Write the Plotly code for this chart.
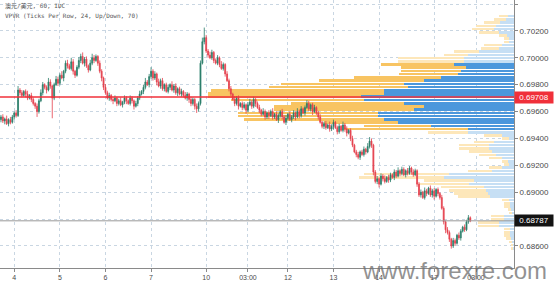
import plotly.graph_objects as go

# ---------------- data ----------------
X_TICK_POS = [7, 31, 55, 79, 108, 130, 151, 175, 199, 228, 250]
X_TICK_TEXT = ["4", "5", "6", "7", "10", "03:00", "12", "13", "14", "17", "03:00"]

Y_TICKS = [0.686, 0.688, 0.690, 0.692, 0.694, 0.696, 0.698, 0.700, 0.702, 0.704]

PRICE_SCALE = 100000.0
FIRST_OPEN = 69540
CLOSE = [
    69560, 69530, 69545, 69510, 69540, 69520, 69560, 69590, 69570, 69760,
    69740, 69720, 69750, 69730, 69700, 69720, 69690, 69660, 69640, 69600,
    69680, 69740, 69800, 69780, 69760, 69820, 69790, 69700, 69800, 69840,
    69810, 69870, 69850, 69900, 69960, 69940, 69920, 69970, 69900, 69870,
    69930, 69980, 70010, 69960, 69990, 69940, 69910, 69960, 70000, 69980,
    70010, 69960, 69900, 69850, 69780, 69740, 69700, 69720, 69690, 69680,
    69700, 69660, 69680, 69650, 69670, 69700, 69680, 69660, 69700, 69680,
    69640, 69660, 69700, 69730, 69750, 69780, 69820, 69800, 69860, 69900,
    69850, 69880, 69820, 69790, 69830, 69770, 69800, 69750, 69780, 69800,
    69760, 69790, 69740, 69770, 69730, 69750, 69720, 69700, 69730, 69690,
    69660, 69690, 69640, 69620, 69660, 69960, 70120, 70150, 70050, 70020,
    70000, 70040, 69980, 69960, 70000, 69950, 69920, 69950, 69880, 69830,
    69770, 69730, 69690, 69660, 69700, 69640, 69660, 69630, 69650, 69610,
    69650, 69670, 69640, 69690, 69660, 69630, 69610, 69580, 69600, 69560,
    69590, 69570, 69600, 69560, 69580, 69540, 69570, 69600, 69560, 69520,
    69550, 69580, 69540, 69560, 69590, 69560, 69600, 69570, 69620, 69590,
    69630, 69660, 69620, 69650, 69600, 69630, 69590, 69560, 69520, 69490,
    69510, 69480, 69500, 69470, 69490, 69520, 69480, 69450, 69490, 69460,
    69500, 69470, 69440, 69460, 69400, 69350, 69300, 69280, 69260, 69300,
    69280, 69320, 69300, 69340, 69380, 69350, 69150, 69080, 69100, 69060,
    69120, 69100, 69080, 69110, 69090, 69130, 69110, 69150, 69120, 69160,
    69140, 69170, 69130, 69160, 69140, 69180, 69150, 69130, 69160, 69060,
    68980, 69000, 68960, 69010, 68990, 69030, 68980, 69010, 68970, 69020,
    68990, 68960, 68880, 68780, 68720, 68700, 68650, 68600, 68640, 68620,
    68680, 68660, 68710, 68740, 68720, 68780, 68810, 68787,
]
UP_WICK = [
    15, 20, 10, 25, 10, 20, 15, 10, 20, 30,
    15, 20, 10, 15, 25, 10, 20, 15, 10, 20,
    15, 25, 20, 10, 15, 30, 20, 10, 15, 25,
    20, 15, 30, 10, 20, 25, 15, 30, 20, 10,
    15, 25, 20, 30, 15, 20, 10, 25, 30, 20,
    15, 10, 20, 15, 10, 25, 15, 20, 10, 15,
    20, 10, 15, 25, 10, 20, 15, 10, 20, 15,
    10, 20, 15, 25, 10, 20, 30, 15, 20, 30,
    15, 20, 10, 25, 15, 20, 10, 15, 20, 10,
    25, 15, 20, 10, 15, 20, 10, 25, 15, 10,
    20, 15, 10, 20, 15, 20, 30, 75, 20, 15,
    25, 20, 10, 15, 20, 10, 25, 15, 10, 20,
    15, 20, 10, 25, 15, 20, 10, 15, 20, 10,
    20, 25, 15, 20, 10, 15, 20, 10, 25, 15,
    10, 20, 15, 25, 10, 20, 15, 10, 20, 15,
    25, 10, 20, 15, 20, 10, 25, 15, 20, 10,
    15, 25, 20, 10, 15, 20, 10, 15, 20, 10,
    15, 20, 10, 25, 15, 20, 10, 15, 20, 10,
    25, 15, 20, 10, 15, 20, 10, 15, 20, 10,
    15, 20, 10, 25, 30, 20, 10, 15, 20, 10,
    20, 15, 25, 10, 20, 15, 10, 20, 15, 25,
    10, 20, 15, 10, 20, 15, 10, 20, 15, 10,
    15, 20, 10, 25, 15, 10, 20, 15, 20, 10,
    15, 10, 20, 15, 10, 20, 15, 10, 20, 15,
    10, 20, 15, 10, 20, 15, 20, 10,
]
DOWN_WICK = [
    20, 15, 25, 10, 20, 15, 10, 20, 15, 10,
    20, 15, 10, 25, 15, 10, 20, 15, 20, 40,
    15, 10, 20, 15, 25, 10, 20, 150, 15, 10,
    20, 15, 10, 25, 15, 20, 10, 15, 25, 20,
    10, 15, 20, 10, 25, 15, 20, 10, 15, 20,
    10, 20, 15, 25, 20, 15, 10, 20, 15, 25,
    10, 20, 15, 10, 20, 15, 25, 10, 15, 20,
    25, 10, 20, 15, 10, 20, 15, 10, 20, 15,
    20, 15, 25, 10, 20, 15, 20, 10, 15, 20,
    10, 20, 15, 25, 10, 20, 15, 10, 20, 25,
    20, 15, 25, 30, 20, 15, 10, 20, 15, 20,
    10, 15, 20, 10, 15, 20, 10, 15, 20, 10,
    20, 15, 10, 20, 15, 25, 10, 20, 15, 25,
    15, 10, 20, 15, 25, 10, 20, 15, 10, 20,
    15, 25, 10, 20, 15, 10, 25, 15, 20, 10,
    20, 15, 10, 20, 15, 25, 10, 20, 15, 10,
    20, 10, 15, 20, 25, 10, 15, 20, 10, 15,
    20, 15, 10, 20, 15, 25, 10, 20, 15, 10,
    15, 20, 25, 10, 20, 15, 10, 20, 15, 20,
    10, 15, 20, 10, 15, 20, 25, 15, 20, 25,
    10, 20, 15, 10, 20, 15, 10, 20, 15, 10,
    20, 15, 10, 20, 15, 10, 20, 15, 10, 20,
    15, 20, 10, 15, 20, 10, 15, 20, 25, 10,
    20, 15, 10, 20, 25, 15, 20, 20, 15, 20,
    10, 15, 20, 10, 15, 10, 15, 10,
]

# Volume profile (VPVR, 24 ticks per row), rows from the bottom up
ROW_START = 0.68570
ROW_SIZE = 0.00024
VOL_BLUE = [
    1, 1, 2, 3, 4, 4, 4, 15, 15, 10,
    10, 2, 3, 4, 4, 5, 24, 26, 28, 30,
    45, 40, 70, 65, 22, 12, 5, 6, 12, 18,
    22, 25, 25, 20, 5, 12, 46, 46, 83, 116,
    130, 136, 136, 100, 90, 110, 150, 153, 130, 130,
    106, 110, 90, 73, 56, 53, 48, 60, 50, 50,
    46, 35, 15, 12, 5, 5, 7, 15, 20, 18,
    14, 8, 6,
]
VOL_ORANGE = [
    2, 2, 3, 5, 6, 6, 6, 21, 21, 13,
    13, 3, 3, 6, 6, 7, 32, 34, 37, 43,
    50, 50, 85, 85, 24, 13, 5, 6, 13, 17,
    23, 30, 30, 20, 7, 18, 40, 124, 67, 74,
    140, 140, 140, 140, 150, 113, 133, 153, 176, 173,
    139, 123, 105, 87, 59, 60, 65, 73, 66, 66,
    24, 25, 18, 18, 5, 5, 8, 20, 22, 20,
    16, 12, 9,
]
VA_FIRST_ROW = 37
VA_LAST_ROW = 57

RED_LINE = 0.69708
LAST_PRICE = 0.68787

TITLE_1 = "澳元/美元, 60, IDC"
TITLE_2 = "VPVR (Ticks Per Row, 24, Up/Down, 70)"
WATERMARK = "www.forexre.com"

# ---------------- build ----------------
n = len(CLOSE)
opens = [FIRST_OPEN] + CLOSE[:-1]
highs = [max(o, c) + u for o, c, u in zip(opens, CLOSE, UP_WICK)]
lows = [min(o, c) - d for o, c, d in zip(opens, CLOSE, DOWN_WICK)]
xs = list(range(n))

row_y = [ROW_START + ROW_SIZE * (k + 0.5) for k in range(len(VOL_BLUE))]
in_va = [VA_FIRST_ROW <= k <= VA_LAST_ROW for k in range(len(VOL_BLUE))]
blue_cols = ["#4b97dc" if v else "#c6dff4" for v in in_va]
orange_cols = ["#f8c462" if v else "#fde7ba" for v in in_va]

fig = go.Figure()
fig.add_trace(go.Bar(orientation="h", y=row_y, x=VOL_BLUE, width=ROW_SIZE * 0.8,
                     marker=dict(color=blue_cols, line=dict(width=0)),
                     xaxis="x", yaxis="y", hoverinfo="skip"))
fig.add_trace(go.Bar(orientation="h", y=row_y, x=VOL_ORANGE, width=ROW_SIZE * 0.8,
                     marker=dict(color=orange_cols, line=dict(width=0)),
                     xaxis="x", yaxis="y", hoverinfo="skip"))
fig.add_trace(go.Candlestick(
    x=xs,
    open=[v / PRICE_SCALE for v in opens],
    high=[v / PRICE_SCALE for v in highs],
    low=[v / PRICE_SCALE for v in lows],
    close=[v / PRICE_SCALE for v in CLOSE],
    increasing=dict(line=dict(color="#2a7d69", width=0.8), fillcolor="#2a7d69"),
    decreasing=dict(line=dict(color="#e5404d", width=0.8), fillcolor="#e5404d"),
    xaxis="x2", yaxis="y", hoverinfo="skip",
))

grid = dict(showgrid=True, gridcolor="#c9d6e2", griddash="dot", gridwidth=1)

fig.update_layout(
    width=554, height=288,
    margin=dict(l=0, r=40, t=0, b=20),
    paper_bgcolor="white", plot_bgcolor="white",
    showlegend=False, barmode="stack", bargap=0,
    xaxis=dict(range=[514, 0], visible=False, showgrid=False, fixedrange=True),
    xaxis2=dict(overlaying="x", side="bottom", anchor="y",
                range=[-0.5, 270.0], tickmode="array",
                tickvals=X_TICK_POS, ticktext=X_TICK_TEXT,
                ticks="outside", ticklen=3, tickcolor="#8a8a8a",
                showline=True, linecolor="#8a8a8a", linewidth=1,
                tickfont=dict(family="Liberation Sans, Arial", size=7, color="#4a4a4a"),
                rangeslider=dict(visible=False), zeroline=False, automargin=False,
                **grid),
    yaxis=dict(side="right", range=[0.68436, 0.70430], tickmode="array",
               tickvals=Y_TICKS, tickformat=".5f",
               ticks="outside", ticklen=3, tickcolor="#8a8a8a",
               showline=True, linecolor="#8a8a8a", linewidth=1,
               tickfont=dict(family="Liberation Sans, Arial", size=8, color="#4a4a4a"),
               zeroline=False, automargin=False, **grid),
)

fig.add_shape(type="line", xref="paper", x0=0, x1=1, yref="y", y0=RED_LINE, y1=RED_LINE,
              line=dict(color="#f0303a", width=1.5), layer="above")
fig.add_shape(type="line", xref="paper", x0=0, x1=1, yref="y", y0=LAST_PRICE, y1=LAST_PRICE,
              line=dict(color="#9a9a9a", width=1), layer="above")

label_font = dict(family="Liberation Sans, Arial", size=8, color="white")
fig.add_annotation(xref="paper", x=1, xanchor="left", yref="y", y=RED_LINE,
                   text=f"{RED_LINE:.5f}", showarrow=False, font=label_font,
                   bgcolor="#f0303a", borderpad=1, width=36, height=9)
fig.add_annotation(xref="paper", x=1, xanchor="left", yref="y", y=LAST_PRICE,
                   text=f"{LAST_PRICE:.5f}", showarrow=False, font=label_font,
                   bgcolor="#131313", borderpad=1, width=36, height=9)

title_font = dict(family="DejaVu Sans Mono, Noto Sans CJK SC", size=6, color="#555555")
fig.add_annotation(xref="paper", x=0.005, xanchor="left", yref="paper", y=0.978, yanchor="middle",
                   text=TITLE_1, showarrow=False, font=title_font)
fig.add_annotation(xref="paper", x=0.005, xanchor="left", yref="paper", y=0.94, yanchor="middle",
                   text=TITLE_2, showarrow=False, font=title_font)

fig.add_annotation(xref="paper", x=0.885, xanchor="center", yref="paper", y=-0.01, yanchor="middle",
                   text=WATERMARK, showarrow=False,
                   font=dict(family="Liberation Sans, Arial", size=24, color="rgba(110,110,110,0.75)"))

fig.write_html("out.html")
